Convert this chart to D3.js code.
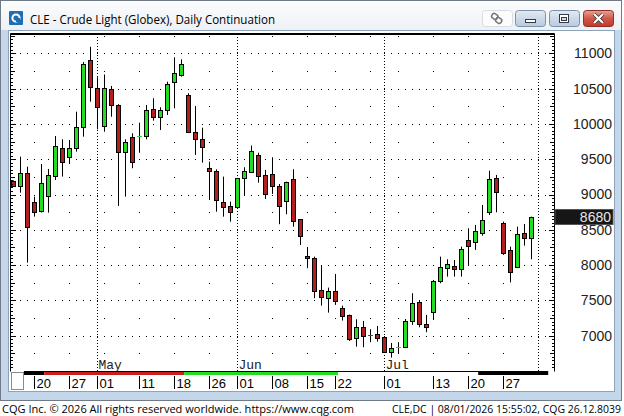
<!DOCTYPE html>
<html>
<head>
<meta charset="utf-8">
<script src="https://cdn.jsdelivr.net/npm/d3@7"></script>
<style>
  body { margin: 0; background: #fff; }
  svg { display: block; }
</style>
</head>
<body>
<div id="viz"></div>
<script>
// daily bars, Apr 15 - Jul 31 2026
const dates = [
  "2026-04-15","2026-04-16","2026-04-17","2026-04-20","2026-04-21","2026-04-22","2026-04-23","2026-04-24",
  "2026-04-27","2026-04-28","2026-04-29","2026-04-30","2026-05-01","2026-05-04","2026-05-05","2026-05-06",
  "2026-05-07","2026-05-08","2026-05-11","2026-05-12","2026-05-13","2026-05-14","2026-05-15","2026-05-18",
  "2026-05-19","2026-05-20","2026-05-21","2026-05-22","2026-05-26","2026-05-27","2026-05-28","2026-05-29",
  "2026-06-01","2026-06-02","2026-06-03","2026-06-04","2026-06-05","2026-06-08","2026-06-09","2026-06-10",
  "2026-06-11","2026-06-12","2026-06-15","2026-06-16","2026-06-17","2026-06-18","2026-06-22","2026-06-23",
  "2026-06-24","2026-06-25","2026-06-26","2026-06-29","2026-06-30","2026-07-01","2026-07-02","2026-07-06",
  "2026-07-07","2026-07-08","2026-07-09","2026-07-10","2026-07-13","2026-07-14","2026-07-15","2026-07-16",
  "2026-07-17","2026-07-20","2026-07-21","2026-07-22","2026-07-23","2026-07-24","2026-07-27","2026-07-28",
  "2026-07-29","2026-07-30","2026-07-31"
]
const open = [
  9190, 9125, 9301, 8894, 8771, 8984, 9267, 9655, 9536, 9655, 9961, 10905, 10504, 9971, 10490, 10268,
  9607, 9811, 9820, 9825, 10207, 10094, 10197, 10589, 10693, 10410, 9890, 9782, 9372, 9333, 8899, 8838,
  8828, 9230, 9323, 9560, 9277, 9291, 9121, 8913, 9216, 8649, 8130, 8097, 7648, 7531, 7634, 7389,
  7294, 6973, 7120, 7025, 7025, 6978, 6775, 6825, 6837, 7214, 7478, 7167, 7341, 7780, 7956, 7988,
  7941, 8356, 8324, 8451, 8757, 9239, 8593, 8215, 7978, 8451, 8380
]
const high = [
  9200, 9536, 9394, 8970, 9432, 9362, 9829, 9782, 9772, 10173, 10877, 11093, 10660, 10700, 10537, 10280,
  9782, 9867, 10017, 10268, 10363, 10235, 10598, 10943, 10915, 10434, 10254, 9946, 9465, 9357, 9253, 8899,
  9235, 9386, 9692, 9592, 9348, 9527, 9149, 9182, 9357, 8650, 8253, 8120, 7988, 7681, 7875, 7426,
  7300, 7233, 7209, 7092, 7138, 6985, 6897, 6908, 7237, 7602, 7493, 7294, 7790, 8120, 8083, 8073,
  8262, 8522, 8569, 8852, 9338, 9277, 8616, 8262, 8545, 8583, 8686
]
const low = [
  9110, 9026, 8035, 8686, 8745, 8743, 9206, 9253, 9432, 9607, 9819, 10315, 9924, 9890, 10102, 8838,
  8970, 9372, 9592, 9782, 10046, 9914, 10126, 10221, 10669, 9870, 9560, 9451, 8923, 8757, 8686, 8615,
  8820, 8984, 9323, 9168, 8937, 9008, 8579, 8720, 8545, 8285, 7956, 7531, 7426, 7327, 7436, 7214,
  6926, 6845, 6837, 6908, 6916, 6770, 6690, 6752, 6834, 7153, 7120, 7049, 7223, 7743, 7837, 7837,
  7837, 8002, 8215, 8417, 8710, 8748, 8145, 7755, 7964, 8276, 8083
]
const close = [
  9125, 9305, 8536, 8757, 9159, 9277, 9687, 9465, 9655, 9952, 10844, 10527, 10235, 10504, 10268, 9607,
  9748, 9457, 9825, 10197, 10094, 10197, 10565, 10717, 10844, 9890, 9782, 9677, 9338, 8923, 8828, 8757,
  9230, 9333, 9617, 9267, 9003, 9121, 8842, 9173, 8625, 8413, 8094, 7638, 7545, 7634, 7497, 7284,
  6954, 7120, 7001, 7015, 6973, 6775, 6831, 6833, 7209, 7460, 7167, 7129, 7780, 7970, 8012, 7941,
  8229, 8276, 8484, 8635, 9216, 9032, 8168, 7896, 8437, 8380, 8680
]

const priceTicks = [7000, 7500, 8000, 8500, 9000, 9500, 10000, 10500, 11000]
const dayTicks = ["2026-04-20","2026-04-27","2026-05-01","2026-05-11","2026-05-18","2026-05-26","2026-06-01",
  "2026-06-08","2026-06-15","2026-06-22","2026-07-01","2026-07-13","2026-07-20","2026-07-27"]
const monthNames = ["May", "Jun", "Jul"]
// the coloured strip under the plot changes colour after these days
const stripBreaks = ["2026-04-21", "2026-05-19", "2026-06-22", "2026-07-21"]
const lastPrice = 8680

const title = "CLE - Crude Light (Globex), Daily Continuation"
const footLeft = "CQG Inc. \u00a9 2026 All rights reserved worldwide. https://www.cqg.com"
const footRight = "CLE,DC | 08/01/2026 15:55:02, CQG 26.12.8039"

const parse = d3.timeParse("%Y-%m-%d")
const bars = dates.map((d, i) => ({
  i, date: parse(d), o: open[i], h: high[i], l: low[i], c: close[i]
}))

const W = 624, H = 416
const plot = {left: 10, right: 554, top: 33, bottom: 371.5}

const svg = d3.select('#viz').append('svg')
  .attr('width', W)
  .attr('height', H)
  .style('font-family', 'Liberation Sans, Arial, sans-serif')

// window chrome
const defs = svg.append('defs')
const tg = defs.append('linearGradient').attr('id', 'titleg').attr('x1', 0).attr('y1', 0).attr('x2', 0).attr('y2', 1)
tg.append('stop').attr('offset', 0).attr('stop-color', '#fbfcfd')
tg.append('stop').attr('offset', 1).attr('stop-color', '#eef1f5')
const bg = defs.append('linearGradient').attr('id', 'btng').attr('x1', 0).attr('y1', 0).attr('x2', 0).attr('y2', 1)
bg.append('stop').attr('offset', 0).attr('stop-color', '#e3ebf4')
bg.append('stop').attr('offset', 0.5).attr('stop-color', '#ccd9e8')
bg.append('stop').attr('offset', 1).attr('stop-color', '#b9cbe0')
const cg = defs.append('linearGradient').attr('id', 'closeg').attr('x1', 0).attr('y1', 0).attr('x2', 0).attr('y2', 1)
cg.append('stop').attr('offset', 0).attr('stop-color', '#e9a293')
cg.append('stop').attr('offset', 0.5).attr('stop-color', '#d0594a')
cg.append('stop').attr('offset', 1).attr('stop-color', '#c0392b')

svg.append('rect').attr('x', 0.5).attr('y', 0.5).attr('width', 621).attr('height', 400)
  .attr('fill', '#c3d6ea').attr('stroke', '#707a86')
svg.append('rect').attr('x', 1).attr('y', 1).attr('width', 620).attr('height', 29)
  .attr('fill', 'url(#titleg)')
svg.append('rect').attr('x', 8.5).attr('y', 30.5).attr('width', 606).attr('height', 361)
  .attr('fill', '#fff').attr('stroke', '#8ea3ba')

// title icon + text
svg.append('rect').attr('x', 9).attr('y', 11).attr('width', 14).attr('height', 14).attr('rx', 1)
  .attr('fill', '#1f6db3')
svg.append('circle').attr('cx', 16).attr('cy', 18).attr('r', 3.6)
  .attr('fill', 'none').attr('stroke', '#fff').attr('stroke-width', 2)
svg.append('rect').attr('x', 16).attr('y', 18).attr('width', 4).attr('height', 4).attr('fill', '#1f6db3')
svg.append('text').attr('x', 30).attr('y', 24).text(title)
  .attr('textLength', 245).attr('lengthAdjust', 'spacingAndGlyphs')
  .style('font-family', 'Open Sans, Noto Sans, sans-serif').style('font-size', '13px').attr('fill', '#000')

// title buttons
const btns = [
  {x: 482, kind: 'link'}, {x: 515, kind: 'min'}, {x: 549, kind: 'max'}, {x: 583, kind: 'close'}
]
btns.forEach(b => {
  const g = svg.append('g').attr('transform', `translate(${b.x},10)`)
  const fill = b.kind === 'link' ? '#fcfcfc' : b.kind === 'close' ? 'url(#closeg)' : 'url(#btng)'
  const stroke = b.kind === 'link' ? '#d8dde3' : b.kind === 'close' ? '#8e3027' : '#7d90a8'
  g.append('rect').attr('x', 0.5).attr('y', 0.5).attr('width', 30).attr('height', 16).attr('rx', 3)
    .attr('fill', fill).attr('stroke', stroke)
  if (b.kind === 'link') {
    g.append('rect').attr('x', 10).attr('y', 4).attr('width', 6).attr('height', 5).attr('rx', 2)
      .attr('transform', 'rotate(35 13 6)').attr('fill', 'none').attr('stroke', '#777').attr('stroke-width', 1.5)
    g.append('rect').attr('x', 14).attr('y', 8).attr('width', 6).attr('height', 5).attr('rx', 2)
      .attr('transform', 'rotate(35 17 10)').attr('fill', 'none').attr('stroke', '#777').attr('stroke-width', 1.5)
  } else if (b.kind === 'min') {
    g.append('rect').attr('x', 10.5).attr('y', 9.5).attr('width', 10).attr('height', 3)
      .attr('fill', '#fff').attr('stroke', '#333a44')
  } else if (b.kind === 'max') {
    g.append('rect').attr('x', 10.5).attr('y', 4.5).attr('width', 9).attr('height', 8)
      .attr('fill', '#fff').attr('stroke', '#333a44')
    g.append('rect').attr('x', 12.5).attr('y', 7.5).attr('width', 5).attr('height', 3)
      .attr('fill', '#ccd9e8').attr('stroke', '#333a44')
  } else {
    g.append('path').attr('d', 'M11,4 L20,13 M20,4 L11,13')
      .attr('stroke', '#333').attr('stroke-width', 3.6)
    g.append('path').attr('d', 'M11,4 L20,13 M20,4 L11,13')
      .attr('stroke', '#fff').attr('stroke-width', 2.2)
  }
})

// scales
const xScale = d3.scaleLinear()
  .domain([0, bars.length - 1])
  .range([12.7, 530.7])
const yScale = d3.scaleLinear()
  .domain([7000, 11000])
  .range([335.7, 53.3])
const px = i => Math.round(xScale(i)) + 0.5

const yLo = yScale.invert(plot.bottom), yHi = yScale.invert(plot.top)

// grid
const chart = svg.append('g')
const grid = chart.append('g')

const colIdx = d3.range(0, 78).filter(i => px(i) > plot.left + 1 && px(i) < plot.right - 1)
priceTicks.forEach(v => {
  grid.selectAll(null).data(colIdx).join('rect')
    .attr('x', i => px(i) - 0.5).attr('y', Math.round(yScale(v)))
    .attr('width', 1).attr('height', 1).attr('fill', '#000')
})

const isMonthStart = (b, k) => k > 0 && b.date.getMonth() !== bars[k - 1].date.getMonth()
const monthIdx = bars.filter(isMonthStart).map(b => b.i).concat([bars.length])
const weekIdx = bars.filter((b, k) => k > 0 && b.date.getDay() < bars[k - 1].date.getDay() && !isMonthStart(b, k))
  .map(b => b.i)

const midLevels = d3.range(6750, 11300, 500)
weekIdx.forEach(i => {
  grid.selectAll(null).data(midLevels.filter(v => v > yLo && v < yHi)).join('rect')
    .attr('x', px(i) - 0.5).attr('y', v => Math.round(yScale(v)))
    .attr('width', 1).attr('height', 1).attr('fill', '#000')
})

grid.selectAll('line.month').data(monthIdx).join('line')
  .attr('class', 'month')
  .attr('x1', i => px(i)).attr('x2', i => px(i))
  .attr('y1', plot.top + 1).attr('y2', plot.bottom)
  .attr('stroke', '#000').attr('stroke-dasharray', '1,2')

// month names
chart.selectAll('text.mon').data(monthIdx.slice(0, 3)).join('text')
  .attr('class', 'mon')
  .attr('x', i => px(i) + 1).attr('y', 369)
  .text((d, k) => monthNames[k])
  .style('font-family', 'Liberation Mono, DejaVu Sans Mono, monospace')
  .style('font-size', '13px').attr('fill', '#222')

// candles
const up = '#22dd22', down = '#b31f1f'
const candles = chart.append('g')
candles.selectAll('line').data(bars).join('line')
  .attr('x1', d => px(d.i)).attr('x2', d => px(d.i))
  .attr('y1', d => yScale(d.h)).attr('y2', d => yScale(d.l))
  .attr('stroke', '#000').attr('stroke-width', 1)

const flat = d => Math.abs(yScale(d.o) - yScale(d.c)) < 1.5
candles.selectAll('rect').data(bars.filter(d => !flat(d))).join('rect')
  .attr('x', d => px(d.i) - 2)
  .attr('y', d => Math.round(yScale(Math.max(d.o, d.c))) + 0.5)
  .attr('width', 4)
  .attr('height', d => Math.max(1, Math.round(yScale(Math.min(d.o, d.c))) - Math.round(yScale(Math.max(d.o, d.c)))))
  .attr('fill', d => d.c >= d.o ? up : down)
  .attr('stroke', '#000')

candles.selectAll('line.doji').data(bars.filter(flat)).join('line')
  .attr('class', 'doji')
  .attr('x1', d => px(d.i) - 2.5).attr('x2', d => px(d.i) + 2.5)
  .attr('y1', d => Math.round(yScale(d.c)) + 0.5).attr('y2', d => Math.round(yScale(d.c)) + 0.5)
  .attr('stroke', d => d.c >= d.o ? up : down).attr('stroke-width', 1)

// plot frame
chart.append('path')
  .attr('d', `M${plot.left + 0.5},${plot.bottom} V${plot.top + 0.5} H${plot.right + 0.5} V${plot.bottom}`)
  .attr('fill', 'none').attr('stroke', '#000').attr('stroke-width', 1)
chart.append('line').attr('x1', plot.left).attr('x2', plot.right + 1)
  .attr('y1', plot.top + 1.5).attr('y2', plot.top + 1.5).attr('stroke', '#000')

// border ticks on both sides
const minor = d3.range(6550, 11300, 50).filter(v => v > yLo && v < yHi)
const tickLen = v => v % 500 === 0 ? 5 : v % 250 === 0 ? 4 : 2
chart.selectAll('line.lt').data(minor).join('line')
  .attr('class', 'lt')
  .attr('x1', plot.left).attr('x2', v => plot.left + 1 + tickLen(v))
  .attr('y1', v => Math.round(yScale(v)) + 0.5).attr('y2', v => Math.round(yScale(v)) + 0.5)
  .attr('stroke', '#000')
chart.selectAll('line.rt').data(minor).join('line')
  .attr('class', 'rt')
  .attr('x1', plot.right + 1).attr('x2', v => plot.right - tickLen(v))
  .attr('y1', v => Math.round(yScale(v)) + 0.5).attr('y2', v => Math.round(yScale(v)) + 0.5)
  .attr('stroke', '#000')

// right price axis labels
const yAxis = d3.axisRight(yScale).tickValues(priceTicks).tickFormat(d3.format('d'))
  .tickSize(0).tickPadding(0)
const ya = chart.append('g').attr('transform', `translate(612,0)`).call(yAxis)
ya.select('.domain').remove()
ya.selectAll('text')
  .attr('text-anchor', 'end')
  .style('font-family', 'Liberation Sans, Arial, sans-serif')
  .style('font-size', '14px').attr('fill', '#222')

// last price box
const ly = yScale(lastPrice)
chart.append('rect').attr('x', 555).attr('y', Math.round(ly) - 7.5).attr('width', 58).attr('height', 15)
  .attr('fill', '#161616').attr('stroke', '#555')
chart.append('text').attr('x', 611).attr('y', ly).attr('dy', '0.36em')
  .attr('text-anchor', 'end').text(lastPrice)
  .style('font-size', '14px').attr('fill', '#e6e6e6')

// time strip under the plot
const idxOf = d => dates.indexOf(d)
const cuts = [1.6].concat(stripBreaks.map(d => idxOf(d) + 0.5)).concat([76.5])
const stripColors = ['#000', '#c81e1e', '#22dd22', '#fff', '#000']
chart.selectAll('rect.strip').data(d3.pairs(cuts)).join('rect')
  .attr('class', 'strip')
  .attr('x', d => xScale(d[0])).attr('width', d => xScale(d[1]) - xScale(d[0]))
  .attr('y', 372).attr('height', 3)
  .attr('fill', (d, k) => stripColors[k])
chart.append('line').attr('x1', xScale(1.6)).attr('x2', xScale(76.5))
  .attr('y1', 371.5).attr('y2', 371.5).attr('stroke', '#000')

chart.append('rect').attr('x', 11.5).attr('y', 372.5).attr('width', 12).attr('height', 17)
  .attr('fill', '#fff').attr('stroke', '#8a8a8a')

// date ticks
const dt = chart.selectAll('g.dt').data(dayTicks.map(idxOf)).join('g')
  .attr('class', 'dt')
  .attr('transform', i => `translate(${px(i)},0)`)
dt.append('line').attr('y1', 376).attr('y2', 389).attr('stroke', '#000')
dt.append('text').attr('x', 2).attr('y', 387.5)
  .text(i => d3.timeFormat('%d')(bars[i].date))
  .style('font-size', '13px').attr('fill', '#000')

// footer
svg.append('rect').attr('x', 0).attr('y', 401).attr('width', W).attr('height', 15).attr('fill', '#fff')
svg.append('text').attr('x', 2).attr('y', 412.5).text(footLeft)
  .attr('textLength', 352).attr('lengthAdjust', 'spacingAndGlyphs')
  .style('font-family', 'Open Sans, Noto Sans, sans-serif').style('font-size', '11px').attr('fill', '#000')
svg.append('text').attr('x', 621).attr('y', 412.5).attr('text-anchor', 'end').text(footRight)
  .attr('textLength', 229).attr('lengthAdjust', 'spacingAndGlyphs')
  .style('font-family', 'Open Sans, Noto Sans, sans-serif').style('font-size', '11px').attr('fill', '#000')
</script>
</body>
</html>
